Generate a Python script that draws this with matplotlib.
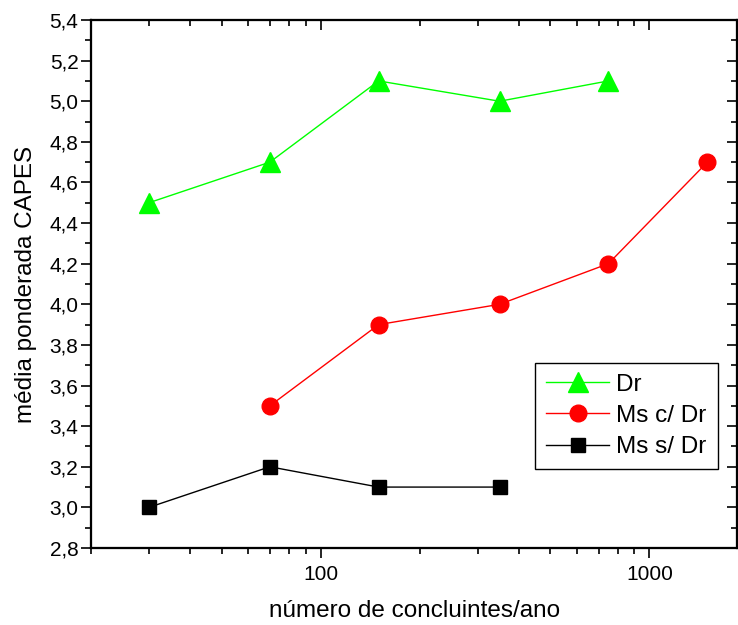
import numpy as np
import matplotlib.pyplot as plt
from matplotlib.ticker import FuncFormatter, MultipleLocator, LogLocator, NullFormatter

plt.rcParams['font.family'] = ['Liberation Sans', 'DejaVu Sans']

# data
x_dr = [30, 70, 150, 350, 750]
y_dr = [4.5, 4.7, 5.1, 5.0, 5.1]
x_msc = [70, 150, 350, 750, 1500]
y_msc = [3.5, 3.9, 4.0, 4.2, 4.7]
x_mss = [30, 70, 150, 350]
y_mss = [3.0, 3.2, 3.1, 3.1]

fig = plt.figure(figsize=(7.38, 6.25), dpi=100)
ax = fig.add_axes([0.1233, 0.1232, 0.8757, 0.8448])

ax.plot(x_dr, y_dr, '-', color='#00ff00', lw=1, marker='^', ms=14, label='Dr')
ax.plot(x_msc, y_msc, '-', color='#ff0000', lw=1, marker='o', ms=12, label='Ms c/ Dr')
ax.plot(x_mss, y_mss, '-', color='black', lw=1, marker='s', ms=10, label='Ms s/ Dr')

ax.set_xscale('log')
ax.set_xlim(20, 1850)
ax.set_ylim(2.8, 5.4)
ax.yaxis.set_major_locator(MultipleLocator(0.2))
ax.yaxis.set_minor_locator(MultipleLocator(0.1))
ax.yaxis.set_major_formatter(FuncFormatter(lambda v, p: ('%.1f' % v).replace('.', ',')))
ax.xaxis.set_major_locator(LogLocator(base=10))
ax.xaxis.set_minor_locator(LogLocator(base=10, subs=np.arange(2, 10)))
ax.xaxis.set_minor_formatter(NullFormatter())
ax.xaxis.set_major_formatter(FuncFormatter(lambda v, p: '%d' % v))

ax.tick_params(which='major', direction='out', length=7, width=1.2, labelsize=15)
ax.tick_params(which='minor', direction='out', length=4, width=1.2)
ax.tick_params(axis='x', which='major', pad=5)
ax.tick_params(axis='y', which='major', pad=2)
for s in ax.spines.values():
    s.set_linewidth(1.5)

# mirror axes with inward ticks on top and right
axr = ax.twinx()
axr.set_ylim(ax.get_ylim())
axr.yaxis.set_major_locator(MultipleLocator(0.2))
axr.yaxis.set_minor_locator(MultipleLocator(0.1))
axr.tick_params(which='both', direction='in', labelright=False, width=1.2)
axr.tick_params(which='major', length=7)
axr.tick_params(which='minor', length=4)
axt = ax.twiny()
axt.set_xscale('log')
axt.set_xlim(ax.get_xlim())
axt.xaxis.set_major_locator(LogLocator(base=10))
axt.xaxis.set_minor_locator(LogLocator(base=10, subs=np.arange(2, 10)))
axt.tick_params(which='both', direction='in', labeltop=False, width=1.2)
axt.tick_params(which='major', length=7)
axt.tick_params(which='minor', length=4)
for a in (axr, axt):
    for s in a.spines.values():
        s.set_linewidth(1.5)

ax.set_xlabel('número de concluintes/ano', fontsize=17.5, labelpad=12)
ax.set_ylabel('média ponderada CAPES', fontsize=17.5, labelpad=9)

leg = ax.legend(loc='upper left', bbox_to_anchor=(0.687, 0.351), fontsize=17.5,
                fancybox=False, framealpha=1, edgecolor='black',
                handlelength=2.6, handletextpad=0.3, borderpad=0.45,
                labelspacing=0.38, borderaxespad=0)
leg.get_frame().set_linewidth(1)

fig.savefig('out.png', dpi=100)
